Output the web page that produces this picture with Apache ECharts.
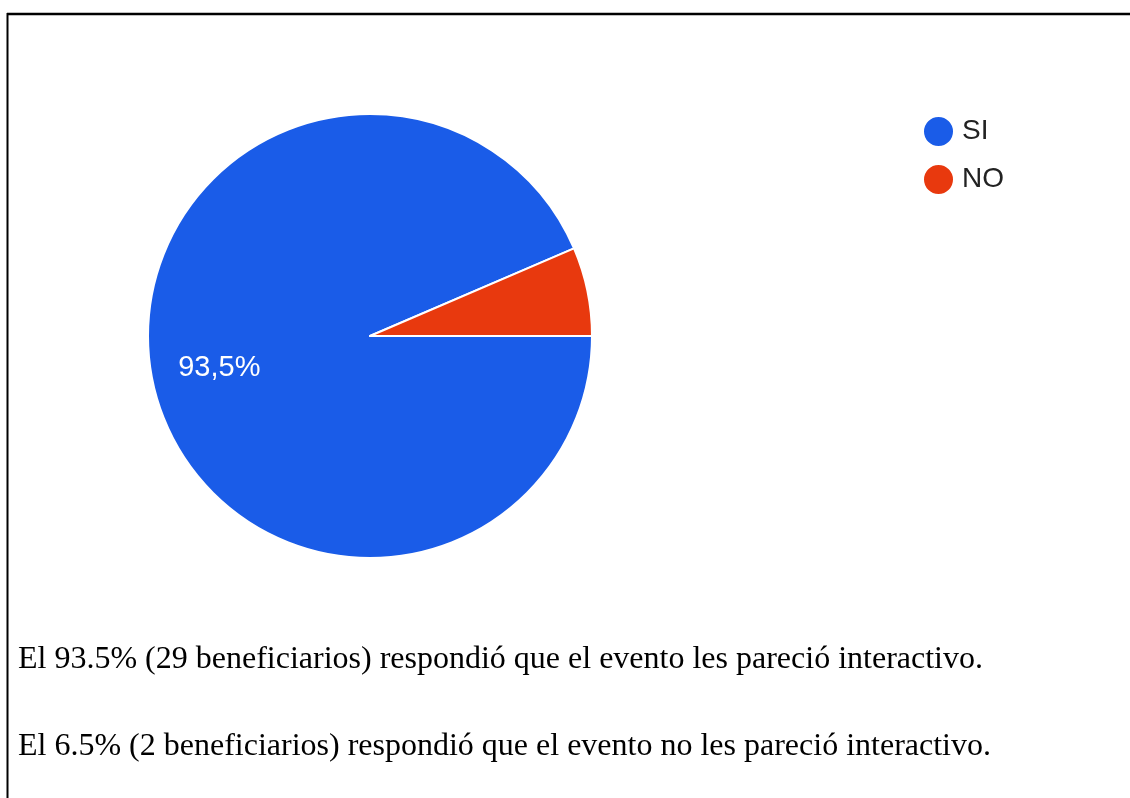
<!DOCTYPE html>
<html>
<head>
<meta charset="utf-8">
<script src="https://cdn.jsdelivr.net/npm/echarts@6/dist/echarts.min.js"></script>
<style>
html,body{margin:0;padding:0;background:#fff;}
#chart{width:1130px;height:798px;}
</style>
</head>
<body>
<div id="chart"></div>
<script>
const categories = ['SI', 'NO'];
const counts = [29, 2];
const colors = ['#1a5ce8', '#e8390e'];
const captions = [
  'El 93.5% (29 beneficiarios) respondió que el evento les pareció interactivo.',
  'El 6.5% (2 beneficiarios) respondió que el evento no les pareció interactivo.'
];

const total = counts.reduce((a, b) => a + b, 0);
const data = categories.map((c, i) => ({
  name: c,
  value: counts[i],
  itemStyle: { color: colors[i] },
  label: { show: i === 0 }
}));

const chart = echarts.init(document.getElementById('chart'), null, { renderer: 'canvas' });
chart.setOption({
  animation: false,
  backgroundColor: '#ffffff',
  legend: {
    orient: 'vertical',
    left: 917,
    top: 110,
    icon: 'circle',
    itemWidth: 31,
    itemHeight: 31,
    itemGap: 15,
    data: categories,
    textStyle: { fontFamily: 'Arial, "Liberation Sans", sans-serif', fontSize: 28, color: '#222222', padding: [0, 0, 0, 3] }
  },
  series: [{
    type: 'pie',
    center: [370, 336],
    radius: [0, 222],
    startAngle: 0,
    clockwise: true,
    avoidLabelOverlap: false,
    itemStyle: { borderColor: '#ffffff', borderWidth: 2 },
    label: {
      position: 'inside',
      color: '#ffffff',
      fontSize: 29,
      fontFamily: 'Arial, "Liberation Sans", sans-serif',
      formatter: p => (p.value / total * 100).toFixed(1).replace('.', ',') + '%'
    },
    labelLayout: { dx: -39, dy: 9 },
    labelLine: { show: false },
    emphasis: { disabled: true },
    data: data
  }],
  graphic: [
    { type: 'line', shape: { x1: 7, y1: 14, x2: 1130, y2: 14 }, style: { stroke: '#000', lineWidth: 2.5 } },
    { type: 'line', shape: { x1: 7.5, y1: 13, x2: 7.5, y2: 798 }, style: { stroke: '#000', lineWidth: 2 } },
    { type: 'text', x: 18, y: 660, style: { text: captions[0], fontFamily: '"Liberation Serif", "Times New Roman", serif', fontSize: 32, fill: '#000', verticalAlign: 'middle' } },
    { type: 'text', x: 18, y: 747, style: { text: captions[1], fontFamily: '"Liberation Serif", "Times New Roman", serif', fontSize: 32, fill: '#000', verticalAlign: 'middle' } }
  ]
});
</script>
</body>
</html>
